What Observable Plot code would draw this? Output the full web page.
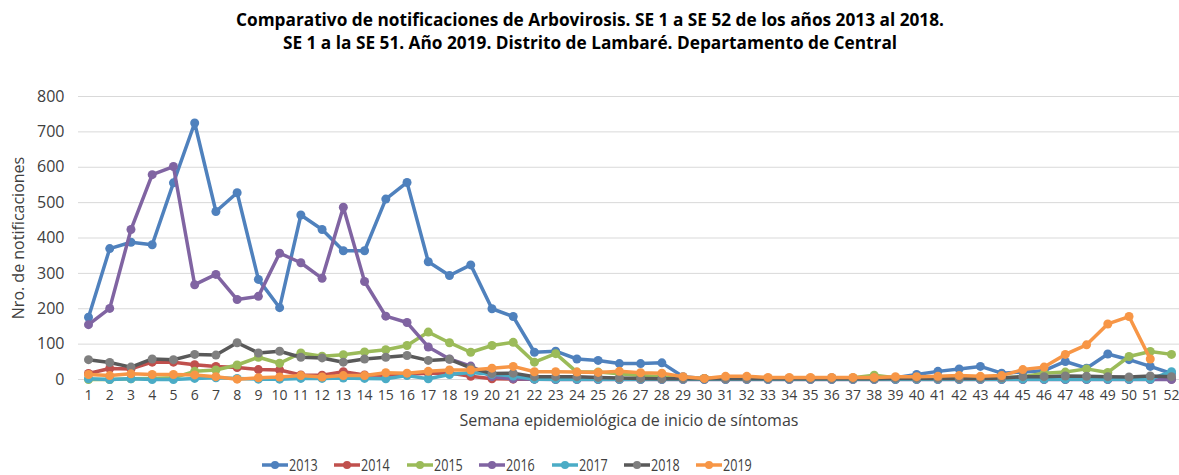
<!DOCTYPE html>
<html>
<head>
<meta charset="utf-8">
<script src="https://cdn.jsdelivr.net/npm/d3@7"></script>
<script src="https://cdn.jsdelivr.net/npm/@observablehq/plot@0.6"></script>
<style>
  html, body { margin: 0; padding: 0; background: #fff; }
  body { width: 1179px; height: 475px; position: relative; overflow: hidden; font-family: "Open Sans", "Noto Sans", sans-serif; color: #404040; }
  #title { position: absolute; top: 8px; left: 0; width: 1179px; height: 52px; text-align: center; }
  #title div { font-weight: bold; font-size: 17.5px; line-height: 23px; color: #000; transform: scaleX(0.985); transform-origin: 590px 0; width: 1180px; }
  #chart { position: absolute; top: 60px; left: 0; }
  #legend { position: absolute; top: 455px; left: 0; width: 1179px; height: 19px; }
  .item { position: absolute; top: 0; height: 19px; display: flex; align-items: center; white-space: nowrap; }
  .item span { font-size: 17px; line-height: 19px; color: #404040; display: inline-block; transform: scaleX(0.74); transform-origin: 0 50%; margin-left: 1px; white-space: nowrap; }
</style>
</head>
<body>
<div id="title">
  <div>Comparativo de notificaciones de Arbovirosis. SE 1 a SE 52 de los años 2013 al 2018.</div>
  <div>SE 1 a la SE 51. Año 2019. Distrito de Lambaré. Departamento de Central</div>
</div>
<div id="chart"></div>
<div id="legend"></div>
<script>
// Semanas epidemiológicas
const weeks = d3.range(1, 53);
const years = ["2013", "2014", "2015", "2016", "2017", "2018", "2019"];
const lineColors = ["#4F81BD", "#C0504D", "#9BBB59", "#8064A2", "#4BACC6", "#595959", "#F79646"];
const dotColors  = ["#4F81BD", "#C0504D", "#9BBB59", "#8064A2", "#4BACC6", "#7F7F7F", "#F79646"];
const yTicks = [0, 100, 200, 300, 400, 500, 600, 700, 800];

const s2013 = [176,370,388,381,556,725,475,528,283,203,465,424,364,364,510,557,333,294,324,200,178,77,80,58,54,45,45,47,8,3,5,5,3,3,3,5,3,3,5,14,23,30,37,18,21,25,51,32,72,56,37,17];
const s2014 = [17,31,30,49,49,42,37,34,28,27,13,12,22,13,12,15,18,18,9,2,1,1,1,1,1,1,1,1,1,1,1,1,1,1,1,1,1,1,1,1,1,1,1,1,1,1,1,1,1,1,1,1];
const s2015 = [0,0,2,3,5,23,27,41,63,46,75,66,70,78,84,96,134,104,77,96,105,49,73,21,21,16,11,8,5,3,5,5,3,3,3,3,5,12,5,5,5,5,5,5,8,18,21,30,20,65,79,71];
const s2016 = [155,201,424,579,602,268,297,226,235,357,330,286,487,277,179,161,92,58,38,8,2,1,0,0,0,0,0,0,0,0,0,0,0,0,0,0,0,0,0,0,0,0,0,0,0,0,0,0,0,0,0,0];
const s2017 = [2,0,2,0,0,3,5,3,1,1,3,3,4,3,2,11,2,14,20,15,10,1,1,1,1,1,1,1,1,1,1,1,1,1,1,1,1,1,1,1,1,1,1,1,1,1,1,1,1,1,1,22];
const s2018 = [56,48,35,58,56,71,69,104,75,80,63,61,49,58,63,68,54,57,33,17,18,8,8,8,6,4,3,2,2,2,2,2,2,2,2,2,2,2,3,3,3,3,3,4,8,8,10,9,8,7,10,8];
const s2019 = [14,11,16,14,14,13,8,1,5,7,11,7,11,11,19,18,23,27,27,32,37,22,22,21,20,23,19,18,8,3,9,9,6,6,6,6,6,6,8,8,9,11,9,11,28,35,71,98,157,178,58];

const series = [s2013, s2014, s2015, s2016, s2017, s2018, s2019];

const marks = [
  Plot.gridY(yTicks, {stroke: "#d9d9d9", strokeOpacity: 1, strokeWidth: 1}),
  Plot.axisY(yTicks, {tickSize: 0, tickPadding: 14, fontSize: 16, fill: "#404040", label: null}),
  Plot.axisX(weeks, {tickSize: 0, tickPadding: 11, fontSize: 14, fill: "#404040", label: null}),
  Plot.text(["Semana epidemiológica de inicio de síntomas"], {frameAnchor: "bottom", dy: 46, fontSize: 16, fill: "#404040"}),
  Plot.text(["Nro. de notificaciones"], {frameAnchor: "left", textAnchor: "middle", dx: -60, rotate: -90, fontSize: 16, fill: "#404040"})
];

series.forEach((vals, i) => {
  const data = vals.map((v, j) => ({week: weeks[j], value: v}));
  marks.push(Plot.line(data, {x: "week", y: "value", stroke: lineColors[i], strokeWidth: 3.5, strokeLinejoin: "round", strokeLinecap: "round"}));
  marks.push(Plot.dot(data, {x: "week", y: "value", r: 4.5, fill: dotColors[i], stroke: "none"}));
});

const chart = Plot.plot({
  width: 1179,
  height: 372,
  marginLeft: 78,
  marginRight: 0,
  marginTop: 36,
  marginBottom: 53,
  style: {fontFamily: "'Open Sans', 'Noto Sans', sans-serif", background: "#fff", overflow: "visible"},
  x: {type: "linear", domain: [1, 52], range: [88, 1171]},
  y: {domain: [0, 800], range: [319, 36]},
  marks
});
document.getElementById("chart").appendChild(chart);

const legend = document.getElementById("legend");
years.forEach((yr, i) => {
  const item = document.createElement("div");
  item.className = "item";
  item.style.left = (262 + i * 72.4) + "px";
  item.innerHTML = `<svg width="26" height="12"><line x1="0" y1="6" x2="26" y2="6" stroke="${lineColors[i]}" stroke-width="3.5"/><circle cx="13" cy="6" r="4" fill="${dotColors[i]}"/></svg><span>${yr}</span>`;
  legend.appendChild(item);
});
</script>
</body>
</html>
